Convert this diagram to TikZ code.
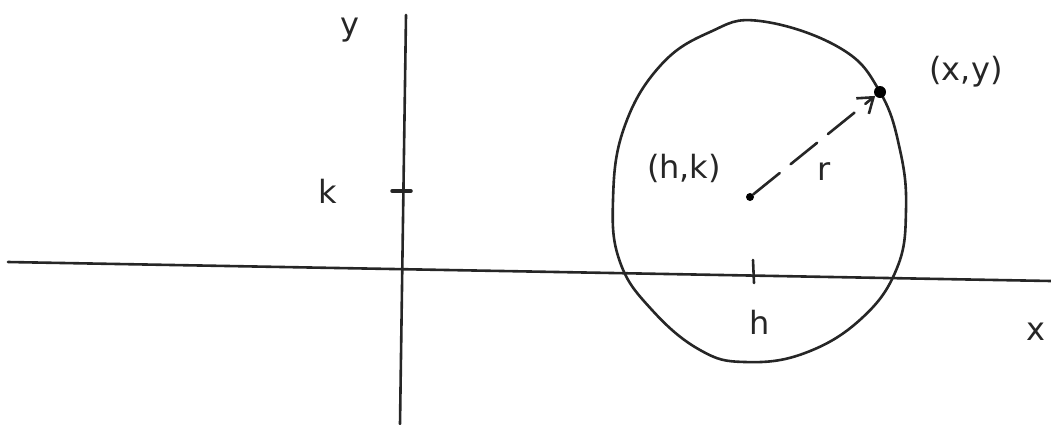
\documentclass[tikz,border=0pt]{standalone}
\usepackage{fontspec}
\setmainfont{DejaVu Sans}
\usetikzlibrary{arrows.meta}
\begin{document}
\begin{tikzpicture}[x=1pt,y=-1pt,
  ink/.style={line width=2.6pt,draw=black!85,line cap=round,line join=round},
  lbl/.style={font=\fontsize{32}{32}\selectfont,text=black!85,inner sep=0pt},
  dotnode/.style={circle,fill=black,inner sep=0pt,minimum size=#1}]
\useasboundingbox (0,0) rectangle (1051,424);
% axes
\coordinate (xl) at (8,262);
\coordinate (xr) at (1051,281);
\coordinate (yt) at (406,15);
\coordinate (yb) at (400,424);
\draw[ink] (xl) -- (xr);
\draw[ink] (yt) -- (yb);
% k tick
\coordinate (kt1) at (392,191);
\coordinate (kt2) at (411,191);
\draw[ink,line width=3.5pt] (kt1) -- (kt2);
% h tick
\coordinate (ht1) at (753,260);
\coordinate (ht2) at (754,283);
\draw[ink] (ht1) -- (ht2);
% circle
\draw[ink] plot[smooth cycle,tension=0.7] coordinates {
  (760,21) (840,48) (880,92) (900,150) (906,210) (897,268) (862,318)
  (805,353) (745,362) (700,350) (652,310) (620,262) (613,200) (624,128)
  (660,66) (710,32)};
% points
\node[dotnode=12pt] (P) at (880,92) {};
\node[dotnode=8pt] (C) at (750,197) {};
\draw[ink,dash pattern=on 34pt off 14pt,-{Straight Barb[length=14pt,width=20pt]}] (C) -- (P);
% labels
\node[lbl] (ylab) at (350,30) {y};
\node[lbl] (klab) at (328,191) {k};
\node[lbl] (hlab) at (760,322) {h};
\node[lbl] (xlab) at (1036,332) {x};
\node[lbl] (rlab) at (824,172) {r};
\node[lbl] (hk) at (684,168) {(h,k)};
\node[lbl] (xy) at (966,72) {(x,y)};
\end{tikzpicture}
\end{document}
